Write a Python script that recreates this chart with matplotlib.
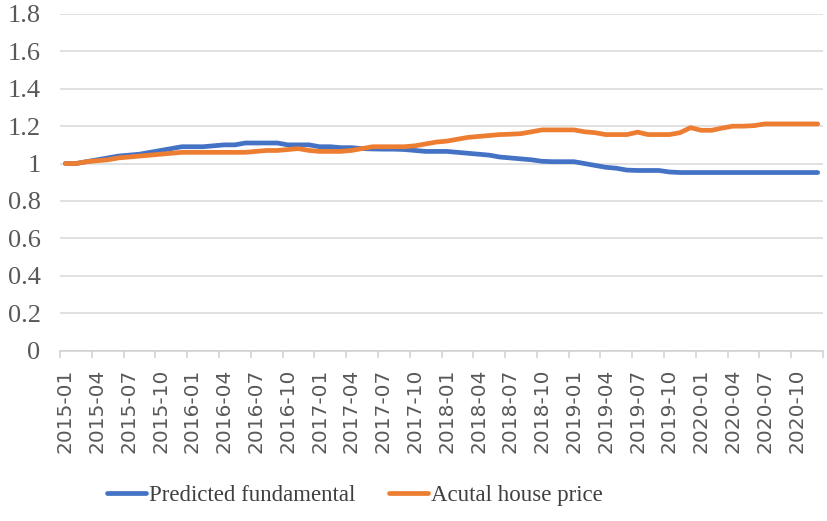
import numpy as np
import matplotlib as mpl; mpl.use('Agg')
import matplotlib.pyplot as plt

# monthly series 2015-01 .. 2020-12
months = [f'{y}-{m:02d}' for y in range(2015, 2021) for m in range(1, 13)]
predicted = [1.000, 1.000, 1.010, 1.020, 1.030, 1.040, 1.045, 1.050, 1.060, 1.070, 1.080, 1.090,
             1.090, 1.090, 1.095, 1.100, 1.100, 1.110, 1.110, 1.110, 1.110, 1.100, 1.100, 1.100,
             1.090, 1.090, 1.085, 1.085, 1.080, 1.078, 1.077, 1.077, 1.075, 1.070, 1.065, 1.065,
             1.065, 1.060, 1.055, 1.050, 1.045, 1.035, 1.030, 1.025, 1.020, 1.012, 1.010, 1.010,
             1.010, 1.000, 0.990, 0.980, 0.975, 0.965, 0.963, 0.963, 0.963, 0.955, 0.952, 0.952,
             0.952, 0.952, 0.952, 0.952, 0.952, 0.952, 0.952, 0.952, 0.952, 0.952, 0.952, 0.952]
actual = [1.000, 1.000, 1.010, 1.015, 1.020, 1.030, 1.035, 1.040, 1.045, 1.050, 1.055, 1.060,
          1.060, 1.060, 1.060, 1.060, 1.060, 1.060, 1.065, 1.070, 1.070, 1.075, 1.080, 1.070,
          1.065, 1.065, 1.065, 1.070, 1.080, 1.090, 1.090, 1.090, 1.090, 1.095, 1.105, 1.115,
          1.120, 1.130, 1.140, 1.145, 1.150, 1.155, 1.157, 1.160, 1.170, 1.180, 1.180, 1.180,
          1.180, 1.170, 1.165, 1.155, 1.155, 1.155, 1.168, 1.155, 1.155, 1.155, 1.165, 1.192,
          1.178, 1.178, 1.190, 1.200, 1.200, 1.203, 1.212, 1.212, 1.212, 1.212, 1.212, 1.212]
labels = ['Predicted fundamental', 'Acutal house price']
colors = ['#4472C4', '#ED7D31']

fig = plt.figure(figsize=(8.27, 5.21), dpi=100)
ax = fig.add_axes([60/827, 1-350.5/521, 763/827, (350.5-14)/521])
x = np.arange(len(months))
for s, lab, c in zip([predicted, actual], labels, colors):
    ax.plot(x, s, color=c, lw=3.4, label=lab, solid_capstyle='round', solid_joinstyle='round')

ax.set_ylim(0, 1.8); ax.set_xlim(-0.5, len(months)-0.5)
yt = np.arange(0, 1.81, 0.2)
ax.set_yticks(yt)
ax.set_yticklabels(['0' if v == 0 else ('1' if abs(v-1) < 1e-9 else f'{v:.1f}') for v in yt],
                   family='Liberation Serif', fontsize=19, color='#595959')
ax.tick_params(axis='y', length=0, pad=14)
ax.grid(axis='y', color='#D9D9D9', lw=1.1)
ax.set_axisbelow(True)
for sp in ['top', 'right', 'left']:
    ax.spines[sp].set_visible(False)
ax.spines['bottom'].set_color('#D0D0D0'); ax.spines['bottom'].set_linewidth(1.1)

# ticks at category boundaries, labels at category centres
ax.set_xticks(np.arange(-0.5, len(months), 3))
ax.set_xticklabels([])
ax.tick_params(axis='x', which='major', length=5, color='#D0D0D0', width=1.1)
ax.set_xticks(x[::3], minor=True)
ax.set_xticklabels(months[::3], minor=True, rotation=90, fontsize=14.5, color='#595959',
                   family='DejaVu Sans', ha='center', va='top')
ax.tick_params(axis='x', which='minor', length=0, pad=13)

fig.legend(loc='center', bbox_to_anchor=(0.429, 1 - 495/521), ncol=2, frameon=False,
           prop={'family': 'Liberation Serif', 'size': 16.5}, handlelength=1.7,
           handletextpad=0.1, columnspacing=1.5, labelcolor='#404040')
fig.savefig('out.png', dpi=100)
